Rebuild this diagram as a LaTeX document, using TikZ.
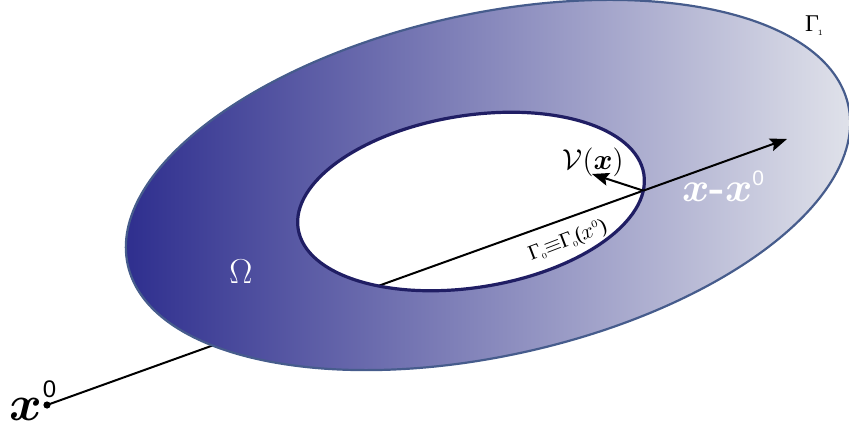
\documentclass[tikz,border=0pt]{standalone}
\usepackage{amsmath,amssymb}
\usepackage{fontspec}
\newfontfamily\sanszero{Liberation Sans}
\newfontfamily\timesf{Liberation Serif}
\usetikzlibrary{arrows.meta,intersections}
\definecolor{deepblue}{RGB}{42,42,140}
\definecolor{palegray}{RGB}{228,230,236}
\definecolor{rimblue}{RGB}{70,92,140}
\definecolor{navyrim}{RGB}{32,30,100}
\tikzset{
  rayline/.style={line width=1pt, black},
  arrowline/.style={line width=1pt, black, -{Stealth[length=8.5pt,width=6.5pt,inset=1.5pt]}},
  outerell/.style={x radius=184.5pt, y radius=85.5pt, rotate=12.5},
  innerell/.style={x radius=87.5pt, y radius=43pt, rotate=9},
  lbl/.style={inner sep=0pt, outer sep=0pt},
}
\newcommand{\Gsub}[1]{{\timesf Γ}\kern-0.6pt\raisebox{-0.15em}{\fontsize{4}{4}\selectfont #1}}
\begin{document}
\begin{tikzpicture}[x=0.5pt,y=-0.5pt]
\useasboundingbox (0,0) rectangle (849,432);
\coordinate (oc) at (488,185);
\coordinate (ic) at (471,201.5);
\coordinate (x0) at (47,405);
\coordinate (tip) at (787,139);
\coordinate (N) at (592,174);
\path[name path=ray] (x0) -- (tip);
\path[name path=inner] (ic) ellipse [innerell];
\path[name intersections={of=ray and inner, sort by=ray, by={Q,P}}];
% line from x0 (hidden under ring)
\draw[rayline] (x0) -- (P);
% ring
\shade[left color=deepblue, right color=palegray] (oc) ellipse [outerell];
\draw[rimblue, line width=1.1pt] (oc) ellipse [outerell];
% hole
\fill[white] (ic) ellipse [innerell];
\begin{scope}
  \clip (ic) ellipse [innerell];
  \draw[rayline] (x0) -- (P);
\end{scope}
\draw[navyrim, line width=1.6pt] (ic) ellipse [innerell];
% arrows
\draw[arrowline] (P) -- (tip);
\draw[arrowline] (P) -- (N);
\fill (x0) circle (1.8pt);
% labels
\node[lbl, anchor=base west] (lx0) at (10,420)
  {\fontsize{29}{29}\selectfont$\boldsymbol{x}$\raisebox{0.38em}{\fontsize{12}{12}\sanszero 0}};
\node[lbl, white] (lomega) at (241,272) {\fontsize{18}{18}\selectfont$\Omega$};
\node[lbl] (lnu) at (593,162) {\fontsize{13.5}{13.5}\selectfont$\mathcal{V}(\boldsymbol{x})$};
\node[lbl, white, anchor=base west] (ldiff) at (682,202)
  {\fontsize{21}{21}\selectfont$\boldsymbol{x}$\textbf{-}$\boldsymbol{x}$\raisebox{0.4em}{\fontsize{10.5}{10.5}\sanszero 0}};
\node[lbl, anchor=base west] (lg1) at (805,32) {\fontsize{12}{12}\selectfont\Gsub{1}};
\node[lbl, rotate=21] (lg0) at (568,241)
  {\fontsize{10.5}{10.5}\selectfont\Gsub{0}$\equiv$\Gsub{0}{\timesf(}\kern-0.5pt$x^{\scriptscriptstyle 0}$\kern-0.5pt{\timesf)}};
\end{tikzpicture}
\end{document}
